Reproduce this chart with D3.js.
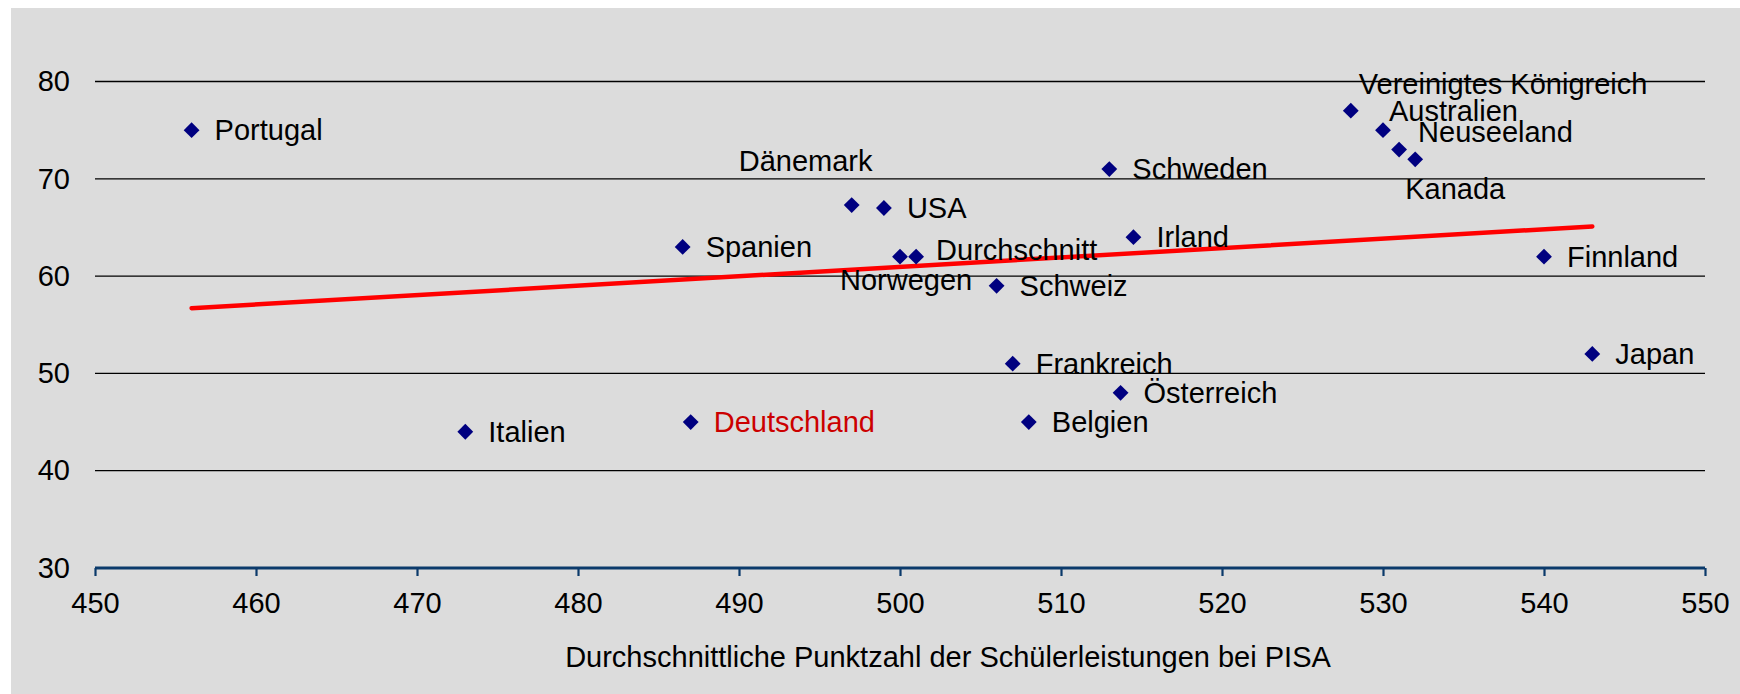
<!DOCTYPE html>
<html>
<head>
<meta charset="utf-8">
<script src="https://cdn.jsdelivr.net/npm/d3@7/dist/d3.min.js"></script>
<style>
  html, body { margin: 0; padding: 0; background: #ffffff; }
  svg { display: block; }
  text { font-family: "Liberation Sans", Arial, sans-serif; }
</style>
</head>
<body>
<script>
// ---------- DATA ----------
const countries = ["Portugal", "Italien", "Deutschland", "Spanien", "Dänemark", "USA",
  "Norwegen", "Durchschnitt", "Schweiz", "Frankreich", "Belgien", "Schweden",
  "Irland", "Österreich", "Vereinigtes Königreich", "Australien", "Neuseeland",
  "Kanada", "Finnland", "Japan"];
const pisaScores = [456, 473, 487, 486.5, 497, 499, 500, 501, 506, 507, 508, 513,
  514.5, 513.7, 528, 530, 531, 532, 540, 543];
const yValues = [75, 44, 45, 63, 67.3, 67, 62, 62, 59, 51, 45, 71,
  64, 48, 77, 75, 73, 72, 62, 52];
const trendX = [456, 543];
const trendY = [56.7, 65.1];
const xTicks = [450, 460, 470, 480, 490, 500, 510, 520, 530, 540, 550];
const yTicks = [30, 40, 50, 60, 70, 80];
const xAxisTitle = "Durchschnittliche Punktzahl der Schülerleistungen bei PISA";
const highlighted = "Deutschland";

// ---------- LAYOUT ----------
const W = 1740, H = 694;
const plot = { left: 95, right: 1705, top: 81.5, bottom: 568 };
const fontSize = 29;
const labelOffset = {
  "Dänemark": [-113, -34],
  "Durchschnitt": [20, 3],
  "Norwegen": [-60, 33],
  "Vereinigtes Königreich": [8, -17],
  "Australien": [6, -9],
  "Neuseeland": [19, -8],
  "Kanada": [-10, 40]
};
const defaultOffset = [23, 10];

const svg = d3.select("body").append("svg").attr("width", W).attr("height", H);

svg.append("rect").attr("x", 11).attr("y", 8).attr("width", W - 11).attr("height", H - 8)
  .attr("fill", "#dcdcdc");

const x = d3.scaleLinear().domain([450, 550]).range([plot.left, plot.right]);
const y = d3.scaleLinear().domain([30, 80]).range([plot.bottom, plot.top]);

// gridlines
svg.append("g").selectAll("line").data(yTicks.filter(t => t > 30)).join("line")
  .attr("x1", plot.left).attr("x2", plot.right)
  .attr("y1", d => y(d)).attr("y2", d => y(d))
  .attr("stroke", "#000").attr("stroke-width", 1.3);

// y axis labels
const yAxis = d3.axisLeft(y).tickValues(yTicks).tickSize(0).tickPadding(25);
const gy = svg.append("g").attr("transform", `translate(${plot.left},0)`).call(yAxis);
gy.select(".domain").remove();
gy.selectAll("text").attr("font-size", fontSize).attr("fill", "#000")
  .attr("font-family", "'Liberation Sans', Arial, sans-serif");

// x axis
const xAxis = d3.axisBottom(x).tickValues(xTicks).tickSize(8).tickPadding(16);
const gx = svg.append("g").attr("transform", `translate(0,${plot.bottom})`).call(xAxis);
gx.select(".domain").attr("stroke", "#0b3a6b").attr("stroke-width", 3)
  .attr("d", `M${plot.left},0H${plot.right}`);
gx.selectAll(".tick line").attr("stroke", "#0b3a6b").attr("stroke-width", 2.2);
gx.selectAll("text").attr("font-size", fontSize).attr("fill", "#000")
  .attr("font-family", "'Liberation Sans', Arial, sans-serif");

// x axis title
svg.append("text").attr("x", 948).attr("y", 667).attr("text-anchor", "middle")
  .attr("font-size", fontSize).attr("fill", "#000").text(xAxisTitle);

// trend line
const line = d3.line().x(d => x(d[0])).y(d => y(d[1]));
svg.append("path").datum(trendX.map((v, i) => [v, trendY[i]]))
  .attr("d", line).attr("stroke", "#ff0000").attr("stroke-width", 4.5)
  .attr("stroke-linecap", "round").attr("fill", "none");

// points
const data = countries.map((c, i) => ({ name: c, px: pisaScores[i], py: yValues[i] }));
const diamond = d3.symbol().type(d3.symbolSquare).size(125);
svg.append("g").selectAll("path").data(data).join("path")
  .attr("d", diamond)
  .attr("transform", d => `translate(${x(d.px)},${y(d.py)}) rotate(45)`)
  .attr("fill", "#000080");

// labels
svg.append("g").selectAll("text").data(data).join("text")
  .attr("x", d => x(d.px) + (labelOffset[d.name] || defaultOffset)[0])
  .attr("y", d => y(d.py) + (labelOffset[d.name] || defaultOffset)[1])
  .attr("font-size", fontSize)
  .attr("fill", d => d.name === highlighted ? "#cc0000" : "#000")
  .text(d => d.name);
</script>
</body>
</html>
